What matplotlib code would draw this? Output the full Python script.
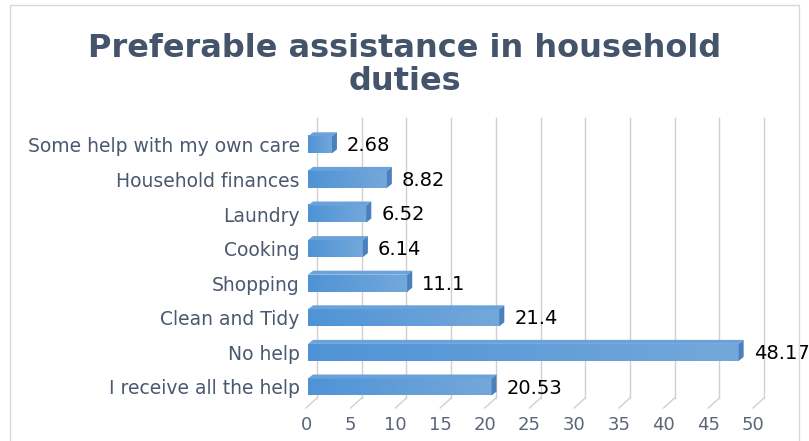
import numpy as np
import matplotlib
matplotlib.use("Agg")
import matplotlib.pyplot as plt
from matplotlib.patches import Polygon, Rectangle

categories = ["I receive all the help", "No help", "Clean and Tidy", "Shopping",
              "Cooking", "Laundry", "Household finances", "Some help with my own care"]
values = [20.53, 48.17, 21.4, 11.1, 6.14, 6.52, 8.82, 2.68]
xticks = [0, 5, 10, 15, 20, 25, 30, 35, 40, 45, 50]

W, H = 809, 441
fig = plt.figure(figsize=(W / 100, H / 100), dpi=100)

# outer chart frame
fig.patches.append(Rectangle((10 / W, -0.1), 789 / W, 1.1 - 5 / H, transform=fig.transFigure,
                             fill=False, edgecolor="#d9d9d9", linewidth=1))

# axes placed in pixel terms: x 0..50 -> px 308..755, categories 34.6 px apart
x0, kx = 308, 8.94
y_first, ky = 387, 34.6
top_px, bot_px = 118, 410
ax = fig.add_axes([x0 / W, 1 - bot_px / H, 50 * kx / W, (bot_px - top_px) / H])
ax.set_xlim(0, 50)
ax.set_ylim((y_first - bot_px) / ky, (y_first - top_px) / ky)
for s in ax.spines.values():
    s.set_visible(False)
ax.set_xticks([])
ax.set_yticks(range(len(categories)))
ax.set_yticklabels(categories, fontsize=13.5, color="#4a5870")
ax.tick_params(axis="y", length=0, pad=6)

back_dx = 9 / kx
front_dx = -2 / kx
floor_back = (y_first - 398) / ky
floor_front = (y_first - 408) / ky
for t in xticks:
    ax.plot([t + back_dx, t + back_dx], [floor_back, ax.get_ylim()[1]],
            color="#d0d0d0", lw=1, zorder=0, clip_on=False)
    ax.plot([t + front_dx, t + back_dx], [floor_front, floor_back],
            color="#d0d0d0", lw=1, zorder=0, clip_on=False)
    ax.text(t + front_dx, floor_front - 17 / ky, str(t), ha="center", va="center",
            fontsize=13, color="#5a6578")

bh = 17 / ky
sdx, sdy = 5 / kx, 4 / ky
grad = np.linspace(0, 1, 256).reshape(1, -1)
cmap = matplotlib.colors.LinearSegmentedColormap.from_list("bar", ["#4f93d6", "#74a8da"])
for i, v in enumerate(values):
    yb, yt = i - bh / 2, i + bh / 2
    ax.imshow(grad, extent=(0, v, yb, yt), aspect="auto", cmap=cmap, zorder=2,
              interpolation="bilinear")
    ax.add_patch(Polygon([(0, yt), (sdx, yt + sdy), (v + sdx, yt + sdy), (v, yt)],
                         closed=True, facecolor="#6aa2d9", edgecolor="none", zorder=2))
    ax.add_patch(Polygon([(v, yb), (v + sdx, yb + sdy), (v + sdx, yt + sdy), (v, yt)],
                         closed=True, facecolor="#4a80bd", edgecolor="none", zorder=2))
    ax.text(v + 15 / kx, i - 1 / ky, f"{v:g}", ha="left", va="center",
            fontsize=14, color="#000000", zorder=3, clip_on=False)

ax.set_xlim(0, 50)
ax.set_ylim((y_first - bot_px) / ky, (y_first - top_px) / ky)

fig.text(405 / W, 1 - 65 / H, "Preferable assistance in household\nduties", ha="center",
         va="center", fontsize=23, fontweight="bold", color="#44546a", linespacing=1.08)

fig.savefig("out.png", dpi=100)
